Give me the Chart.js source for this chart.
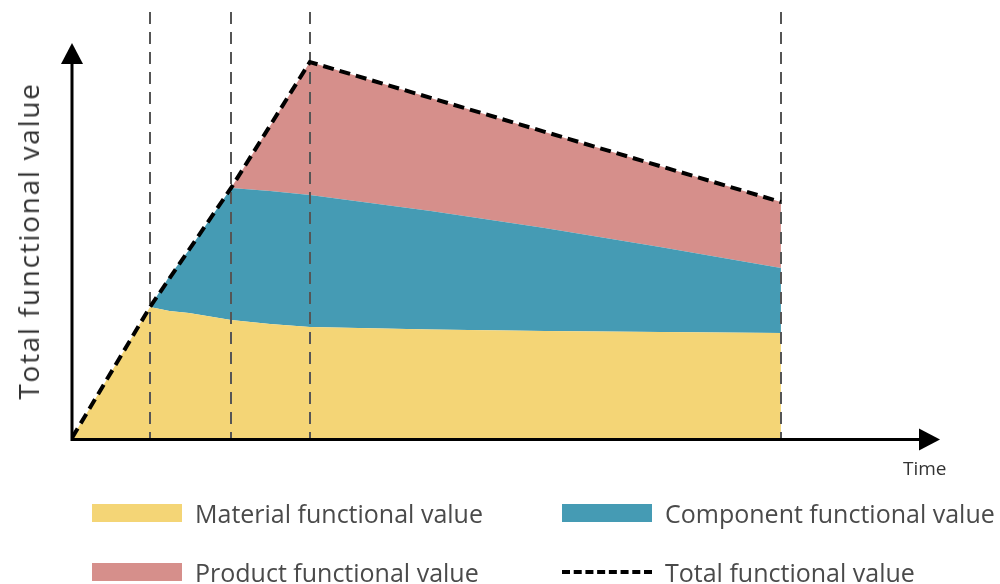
<!DOCTYPE html>
<html>
<head>
<meta charset="utf-8">
<script src="https://cdn.jsdelivr.net/npm/chart.js@4"></script>
<style>
  html,body{margin:0;padding:0;background:#fff;}
  #wrap{position:relative;width:1000px;height:584px;overflow:hidden;font-family:"Open Sans",sans-serif;}
  canvas{position:absolute;left:0;top:0;}
  .ytitle{position:absolute;left:28px;top:241px;transform:translate(-50%,-50%) rotate(-90deg);font-size:28px;letter-spacing:1.7px;color:#333;white-space:nowrap;}
  .xtitle{position:absolute;left:903px;top:455px;font-size:19px;color:#333;}
  .leg{position:absolute;display:flex;align-items:center;font-size:25px;color:#4a4a4a;white-space:nowrap;height:30px;}
  .box{width:90px;height:18px;margin-right:13px;}
  .dash{width:90px;height:0;border-top:4px dashed #000;margin-right:13px;}
</style>
</head>
<body>
<div id="wrap">
  <canvas id="c" width="1000" height="584"></canvas>
  <div class="ytitle">Total functional value</div>
  <div class="xtitle">Time</div>
  <div class="leg" style="left:92px;top:498px;"><div class="box" style="background:#F4D576"></div>Material functional value</div>
  <div class="leg" style="left:562px;top:498px;"><div class="box" style="background:#459BB4"></div>Component functional value</div>
  <div class="leg" style="left:92px;top:557px;"><div class="box" style="background:#D68F8B"></div>Product functional value</div>
  <div class="leg" style="left:562px;top:557px;"><div class="dash"></div>Total functional value</div>
</div>
<script>
// Time points (arbitrary time units)
const times = [0, 1, 1.25, 1.5, 2.04, 2.54, 3.05, 4.6, 6.06, 7.54, 9.09];
// Stacked functional values
const materialValues  = [0, 131, 127, 125, 118, 114, 111, 108.5, 107, 106, 105];
const componentValues = [0, 0, 35, 63, 132, 133, 132, 118.5, 103, 85, 65];
const productValues   = [0, 0, 0, 0, 0, 65, 133, 113, 96, 81, 66];
// Total functional value (dashed outline)
const totalTimes  = [0, 1, 2.04, 3.05, 9.09];
const totalValues = [0, 131, 250, 376, 236];
// Phase boundaries (vertical dashed lines)
const phaseTimes = [1, 2.04, 3.05, 9.09];
const xMax = 11.13, yMax = 395;

const pts = (xs, ys) => xs.map((x, i) => ({x, y: ys[i]}));

const axesPlugin = {
  id: 'axesPlugin',
  beforeDatasetDraw(chart, args) {
    if (args.index !== 0) return;
    const {ctx, scales:{x, y}} = chart;
    ctx.save();
    ctx.strokeStyle = '#555';
    ctx.lineWidth = 2;
    ctx.setLineDash([12, 8]);
    phaseTimes.forEach(t => {
      const px = Math.round(x.getPixelForValue(t));
      ctx.beginPath();
      ctx.moveTo(px, y.getPixelForValue(yMax + 31));
      ctx.lineTo(px, y.getPixelForValue(0));
      ctx.stroke();
    });
    ctx.restore();
  },
  afterDatasetsDraw(chart) {
    const {ctx, scales:{x, y}} = chart;
    const x0 = x.getPixelForValue(0), y0 = y.getPixelForValue(0);
    const xEnd = x.getPixelForValue(xMax), yEnd = y.getPixelForValue(yMax);
    ctx.save();
    ctx.strokeStyle = '#000';
    ctx.fillStyle = '#000';
    ctx.lineWidth = 3;
    ctx.beginPath();
    ctx.moveTo(x0, yEnd + 15);
    ctx.lineTo(x0, y0 + 1.5);
    ctx.lineTo(xEnd - 15, y0 + 1.5);
    ctx.stroke();
    // y arrow
    ctx.beginPath();
    ctx.moveTo(x0, yEnd);
    ctx.lineTo(x0 - 11, yEnd + 21);
    ctx.lineTo(x0 + 11, yEnd + 21);
    ctx.closePath();
    ctx.fill();
    // x arrow
    ctx.beginPath();
    ctx.moveTo(xEnd, y0 + 1.5);
    ctx.lineTo(xEnd - 21, y0 + 1.5 - 11);
    ctx.lineTo(xEnd - 21, y0 + 1.5 + 11);
    ctx.closePath();
    ctx.fill();
    ctx.restore();
  }
};

new Chart(document.getElementById('c'), {
  type: 'line',
  data: {
    datasets: [
      { label: 'Total functional value', data: pts(totalTimes, totalValues), stack: 'total',
        borderColor: '#000', borderWidth: 4, borderDash: [11, 6], fill: false, pointRadius: 0, tension: 0 },
      { label: 'Material functional value', data: pts(times, materialValues), stack: 'fv',
        backgroundColor: '#F4D576', borderWidth: 0, borderColor: 'rgba(0,0,0,0)', fill: 'origin', pointRadius: 0, tension: 0 },
      { label: 'Component functional value', data: pts(times, componentValues), stack: 'fv',
        backgroundColor: '#459BB4', borderWidth: 0, borderColor: 'rgba(0,0,0,0)', fill: '-1', pointRadius: 0, tension: 0 },
      { label: 'Product functional value', data: pts(times, productValues), stack: 'fv',
        backgroundColor: '#D68F8B', borderWidth: 0, borderColor: 'rgba(0,0,0,0)', fill: '-1', pointRadius: 0, tension: 0 }
    ]
  },
  options: {
    responsive: false,
    animation: false,
    layout: { padding: { left: 72, right: 60, top: 43, bottom: 146 } },
    plugins: { legend: { display: false }, tooltip: { enabled: false } },
    scales: {
      x: { type: 'linear', min: 0, max: xMax, display: false },
      y: { stacked: true, min: 0, max: yMax, display: false }
    }
  },
  plugins: [axesPlugin]
});
</script>
</body>
</html>
